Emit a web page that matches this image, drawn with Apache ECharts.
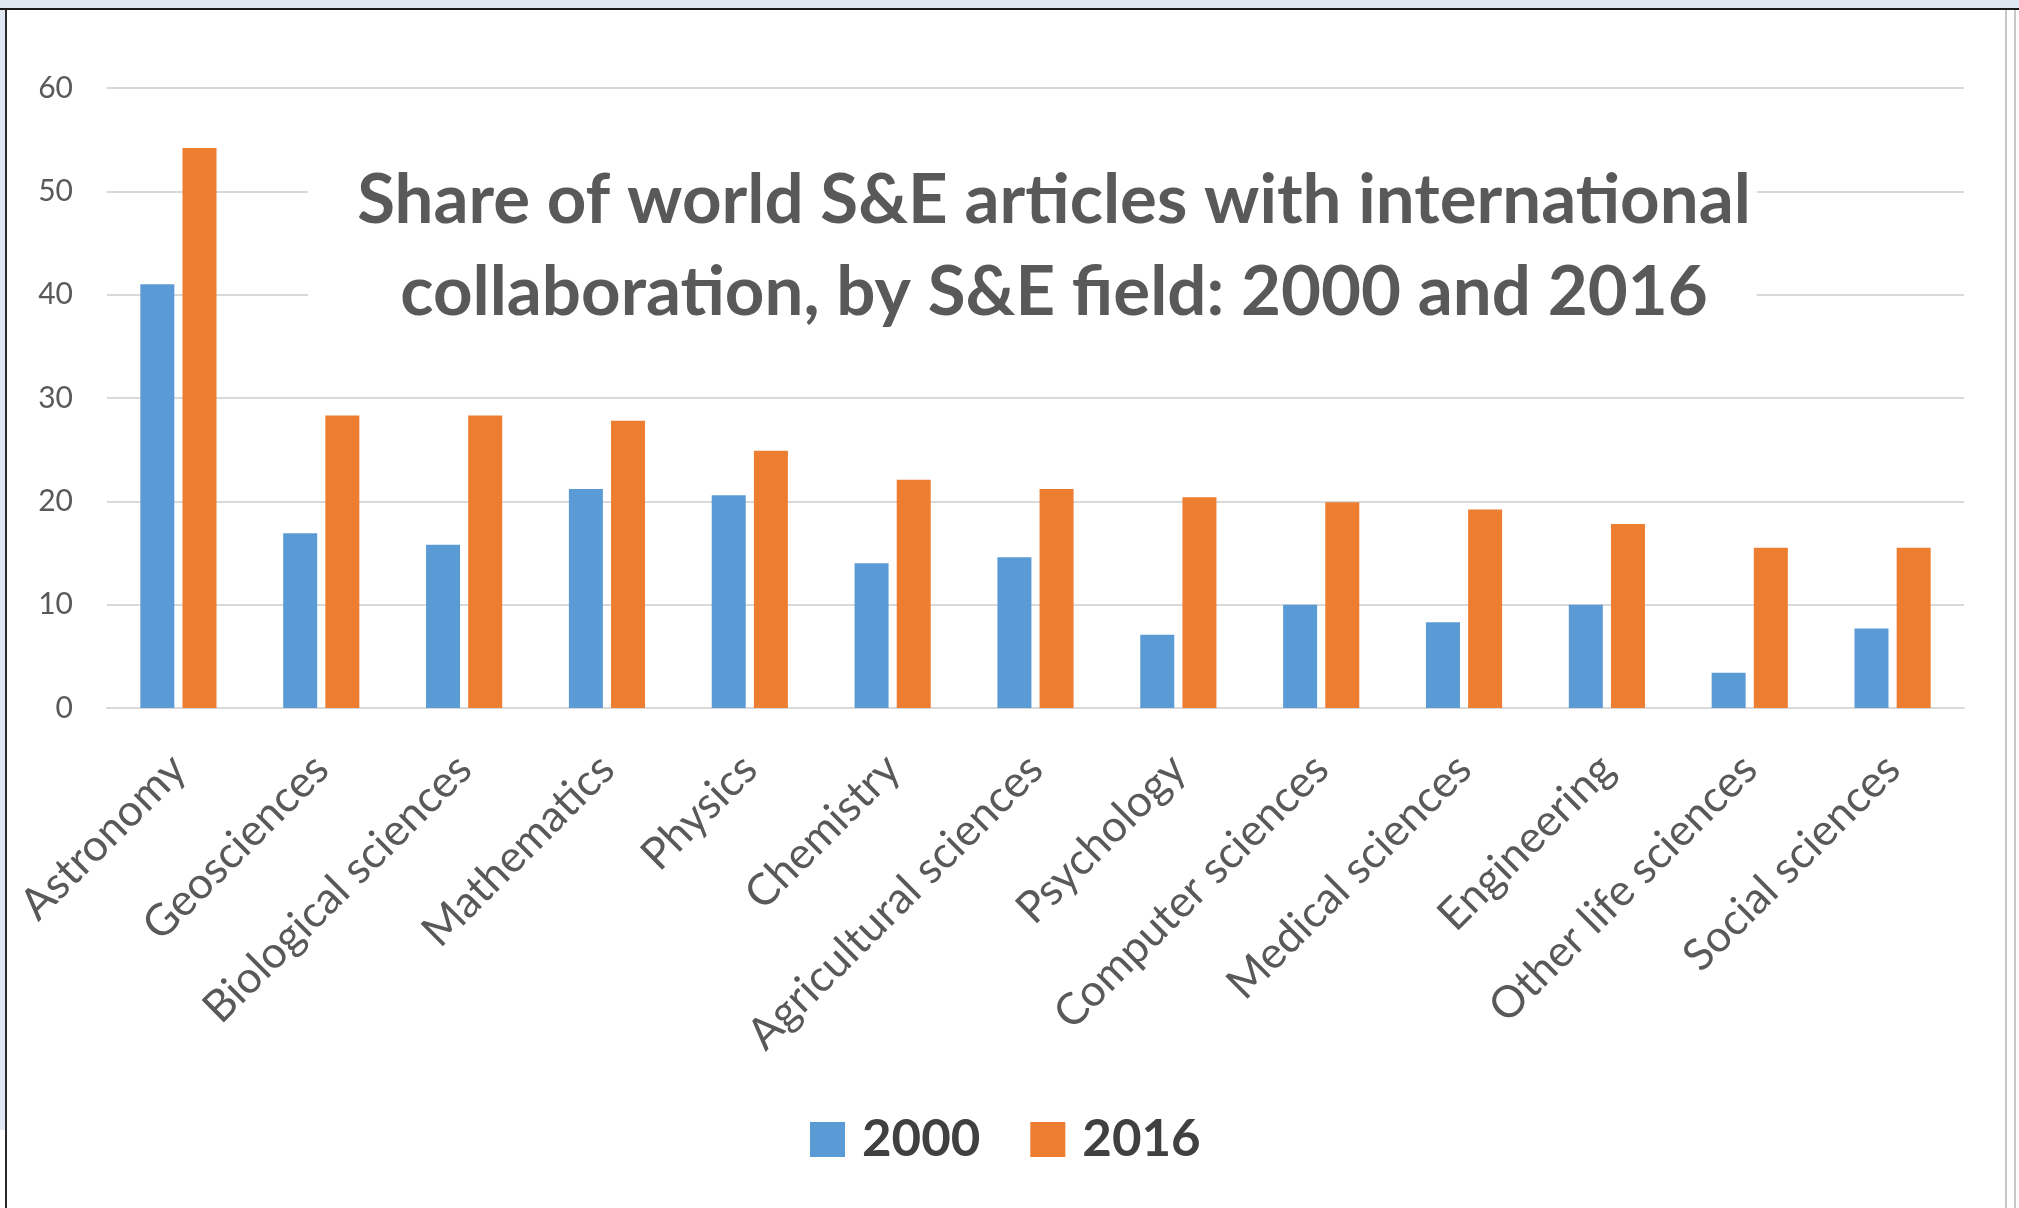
<!DOCTYPE html>
<html>
<head>
<meta charset="utf-8">
<script src="https://cdn.jsdelivr.net/npm/echarts@6/dist/echarts.min.js"></script>
<style>
  html, body { margin: 0; padding: 0; background: #ffffff; }
  #wrap { position: absolute; left: 0; top: 0; width: 2019px; height: 1208px; overflow: hidden; background: #ffffff; }
  #topstrip { position: absolute; left: 0; top: 0; width: 2019px; height: 8px; background: #dfe7f3; }
  #topline { position: absolute; left: 0; top: 8px; width: 2019px; height: 2px; background: #1a1a1a; }
  #leftstrip { position: absolute; left: 0; top: 10px; width: 5px; height: 1120px; background: #dfe7f3; }
  #leftline { position: absolute; left: 5px; top: 10px; width: 2px; height: 1198px; background: #2a2a2a; }
  #right1 { position: absolute; left: 2005px; top: 10px; width: 2px; height: 1198px; background: #c8c8c8; }
  #right2 { position: absolute; left: 2014px; top: 10px; width: 2px; height: 1198px; background: #c8c8c8; }
  #chart { position: absolute; left: 0; top: 0; width: 2019px; height: 1208px; }
</style>
</head>
<body>
<div id="wrap">
  <div id="topstrip"></div>
  <div id="topline"></div>
  <div id="leftstrip"></div>
  <div id="leftline"></div>
  <div id="right1"></div>
  <div id="right2"></div>
  <div id="chart"></div>
</div>
<script>
const categories = [
  "Astronomy", "Geosciences", "Biological sciences", "Mathematics", "Physics",
  "Chemistry", "Agricultural sciences", "Psychology", "Computer sciences",
  "Medical sciences", "Engineering", "Other life sciences", "Social sciences"
];
const values2000 = [41.0, 16.9, 15.8, 21.2, 20.6, 14.0, 14.6, 7.1, 10.0, 8.3, 10.0, 3.4, 7.7];
const values2016 = [54.2, 28.3, 28.3, 27.8, 24.9, 22.1, 21.2, 20.4, 19.9, 19.2, 17.8, 15.5, 15.5];
const seriesNames = ["2000", "2016"];
const yTicks = [0, 10, 20, 30, 40, 50, 60];
const titleText = "Share of world S&E articles with international\ncollaboration, by S&E field: 2000 and 2016";

const chart = echarts.init(document.getElementById('chart'), null, { renderer: 'canvas' });
const FONT = 'Lato, "Open Sans", sans-serif';
const option = {
  backgroundColor: 'transparent',
  animation: false,
  title: {
    text: titleText,
    left: 1005,
    top: 115,
    textAlign: 'center',
    padding: [40, 6, 15, 49],
    backgroundColor: '#ffffff',
    z: 10,
    textStyle: {
      fontFamily: FONT,
      fontWeight: 'bold',
      fontSize: 69,
      lineHeight: 92,
      color: '#595959'
    }
  },
  legend: {
    data: seriesNames,
    left: 805,
    top: 1109,
    itemWidth: 35,
    itemHeight: 35,
    itemGap: 50,
    icon: 'rect',
    textStyle: {
      fontFamily: FONT,
      fontWeight: 'bold',
      fontSize: 51,
      color: '#404040',
      padding: [0, 0, 0, 12]
    }
  },
  grid: {
    left: 107,
    right: 55,
    top: 88,
    bottom: 500,
    containLabel: false
  },
  xAxis: {
    type: 'category',
    data: categories,
    axisTick: { show: false },
    axisLine: { show: true, lineStyle: { color: '#d9d9d9', width: 2 } },
    axisLabel: {
      interval: 0,
      rotate: 45,
      margin: 54,
      fontFamily: FONT,
      fontSize: 44,
      color: '#595959'
    }
  },
  yAxis: {
    type: 'value',
    min: yTicks[0],
    max: yTicks[yTicks.length - 1],
    interval: 10,
    axisLine: { show: false },
    axisTick: { show: false },
    splitLine: { lineStyle: { color: '#d9d9d9', width: 2 } },
    axisLabel: {
      margin: 34,
      fontFamily: FONT,
      fontSize: 30,
      color: '#595959'
    }
  },
  series: [
    {
      name: seriesNames[0],
      type: 'bar',
      data: values2000,
      barWidth: 34,
      barGap: '24%',
      itemStyle: { color: '#5b9bd5' }
    },
    {
      name: seriesNames[1],
      type: 'bar',
      data: values2016,
      barWidth: 34,
      barGap: '24%',
      itemStyle: { color: '#ed7d31' }
    }
  ]
};
chart.setOption(option);
</script>
</body>
</html>
